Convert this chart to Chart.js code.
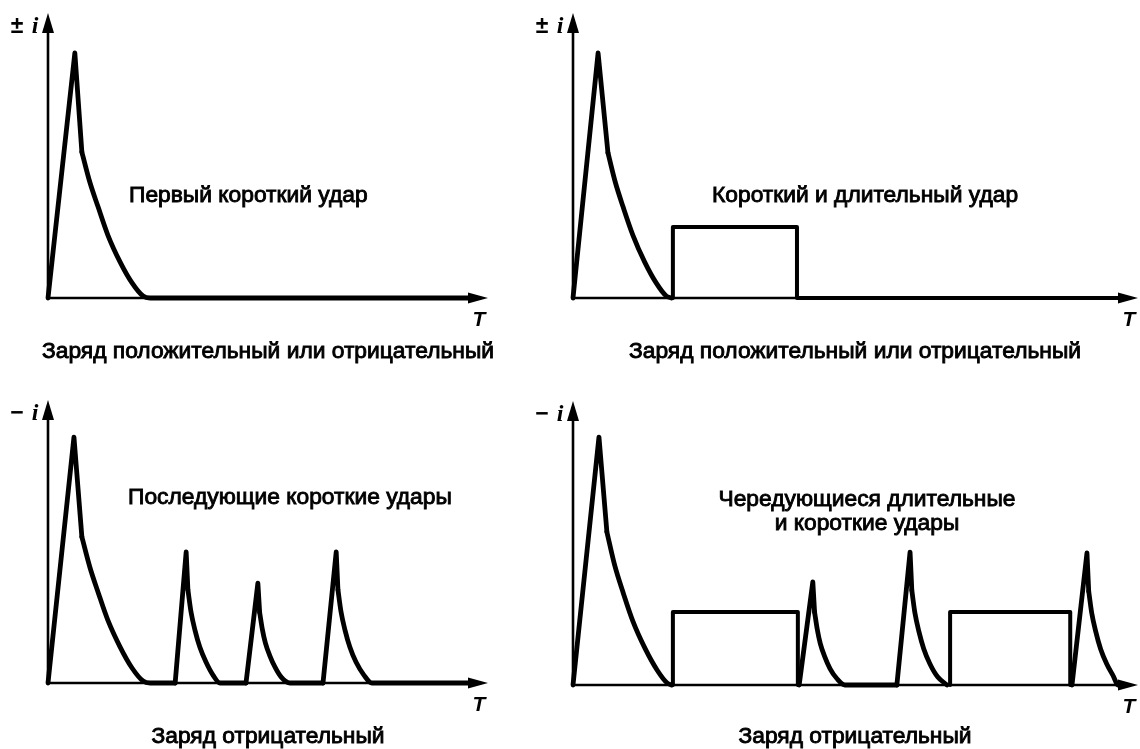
<!DOCTYPE html>
<html>
<head>
<meta charset="utf-8">
<script src="https://cdn.jsdelivr.net/npm/chart.js@4.4.1/dist/chart.umd.min.js"></script>
<style>
  html, body { margin: 0; padding: 0; background: #fff; }
  body { width: 1140px; height: 749px; position: relative; overflow: hidden; }
  .panel { position: absolute; }
</style>
</head>
<body>
<div class="panel" style="left:0;top:0;width:530px;height:375px"><canvas id="c1"></canvas></div>
<div class="panel" style="left:530px;top:0;width:610px;height:375px"><canvas id="c2"></canvas></div>
<div class="panel" style="left:0;top:375px;width:530px;height:374px"><canvas id="c3"></canvas></div>
<div class="panel" style="left:530px;top:375px;width:610px;height:374px"><canvas id="c4"></canvas></div>
<script>
// ---- data: [time, current] pairs, arbitrary units ----
// panel 1: first short stroke
const p1Rise  = [[0, 0], [6.1, 86], [7.7, 51.2]];
const p1Decay = [[7.7, 51.2], [9.5, 40.7], [11.4, 31.9], [13.6, 22.1], [16.4, 12.6], [19.1, 5.3], [21.6, 0.7], [23.2, 0], [96, 0]];

// panel 2: short stroke + long stroke
const p2Rise  = [[0, 0], [5.7, 86], [7.95, 50.9]];
const p2Decay = [[7.95, 50.9], [9.6, 40.7], [11.4, 31.9], [13.6, 22.1], [16.3, 12.6], [18.9, 5.3], [21.2, 0.7], [22.4, 0]];
const p2Long  = [[22.7, 0], [22.7, 24.9], [50.9, 24.9], [50.9, 0], [124, 0]];

// panel 3: subsequent short strokes
const p3Rise1  = [[0, 0], [5.9, 86.9], [7.7, 51.6]];
const p3Decay1 = [[7.7, 51.6], [9.5, 41], [11.4, 32], [13.6, 22.2], [16.4, 12.7], [19.1, 5.3], [21.6, 0.7], [23.2, 0], [28.9, 0]];
const p3Rise2  = [[28.9, 0], [31.4, 46.3], [31.8, 32.9]];
const p3Decay2 = [[31.8, 32.9], [32.5, 25.1], [33.4, 18.7], [34.5, 12.7], [35.9, 7.4], [37.5, 2.8], [39.1, 0], [45, 0]];
const p3Rise3  = [[45, 0], [47.7, 35.3], [48.1, 25]];
const p3Decay3 = [[48.1, 25], [48.7, 19.1], [49.4, 14.2], [50.4, 9.7], [51.6, 5.6], [53, 2.1], [55, 0], [62.5, 0]];
const p3Rise4  = [[62.5, 0], [65.5, 46.3], [65.9, 32.9]];
const p3Decay4 = [[65.9, 32.9], [66.6, 25.1], [67.5, 18.7], [68.6, 12.7], [70, 7.4], [71.8, 2.8], [73.6, 0], [96, 0]];

// panel 4: alternating long and short strokes
const p4Rise1  = [[0, 0], [5.9, 87.3], [7.7, 53.9]];
const p4Decay1 = [[7.7, 53.9], [9.5, 42], [11.4, 32.5], [13.6, 22.5], [16.4, 12.8], [19.1, 5.3], [21.4, 0.7], [22.4, 0]];
const p4Long1  = [[22.7, 0], [22.7, 25.7], [51.1, 25.7], [51.1, 0]];
const p4Rise2  = [[51.4, 0], [54.5, 36.3], [54.9, 25.7]];
const p4Decay2 = [[54.9, 25.7], [55.5, 19.7], [56.2, 14.6], [57.2, 10], [58.4, 5.8], [60, 2.2], [61.8, 0], [73.6, 0]];
const p4Rise3  = [[73.6, 0], [76.6, 46.8], [77, 33.3]];
const p4Decay3 = [[77, 33.3], [77.7, 25.4], [78.6, 18.9], [79.7, 12.8], [81.1, 7.5], [82.9, 2.8], [85, 0]];
const p4Long2  = [[85.7, 0], [85.7, 25.7], [113, 25.7], [113, 0]];
const p4Rise4  = [[113.4, 0], [116.8, 46.5], [117.2, 33]];
const p4Decay4 = [[117.2, 33], [117.9, 25.2], [118.8, 18.8], [119.9, 12.7], [121.3, 7.4], [122.9, 2.8], [123.8, 0], [124, 0]];

const SANS = '"Liberation Sans", Arial, sans-serif';
const SERIF = '"Liberation Serif", "Times New Roman", serif';

function seg(points, kind) {
    return {
        data: points.map(([x, y]) => ({ x, y })),
        showLine: true,
        borderColor: '#000',
        borderWidth: kind === 'long' ? 4 : 4.8,
        borderJoinStyle: 'round',
        borderCapStyle: 'round',
        pointRadius: 0,
        fill: false,
        clip: false,
        tension: 0,
        cubicInterpolationMode: kind === 'decay' ? 'monotone' : 'default'
    };
}

// heavier text like the scanned original
function boldText(ctx, text, x, y) {
    ctx.strokeText(text, x, y);
    ctx.fillText(text, x, y);
}

// axes with arrows, axis letters, notes and captions
const schemePlugin = {
    id: 'scheme',
    beforeDatasetsDraw(chart) {
        const { ctx, scales: { x, y } } = chart;
        const x0 = x.getPixelForValue(0), y0 = y.getPixelForValue(0);
        const xEnd = x.getPixelForValue(x.max), yTop = y.getPixelForValue(y.max);
        ctx.save();
        ctx.strokeStyle = '#000';
        ctx.lineWidth = 2.6;
        ctx.beginPath();
        ctx.moveTo(x0, yTop + 10);
        ctx.lineTo(x0, y0);
        ctx.lineTo(xEnd - 10, y0);
        ctx.stroke();
        ctx.restore();
    },
    afterDatasetsDraw(chart, args, opts) {
        const { ctx, scales: { x, y } } = chart;
        const x0 = x.getPixelForValue(0), y0 = y.getPixelForValue(0);
        const xEnd = x.getPixelForValue(x.max), yTop = y.getPixelForValue(y.max);
        ctx.save();
        ctx.fillStyle = '#000';
        ctx.strokeStyle = '#000';
        // arrow heads
        ctx.beginPath();
        ctx.moveTo(x0, yTop);
        ctx.lineTo(x0 - 6, yTop + 20);
        ctx.lineTo(x0 + 6, yTop + 20);
        ctx.closePath();
        ctx.fill();
        ctx.beginPath();
        ctx.moveTo(xEnd, y0);
        ctx.lineTo(xEnd - 20, y0 - 5.5);
        ctx.lineTo(xEnd - 20, y0 + 5.5);
        ctx.closePath();
        ctx.fill();

        ctx.textBaseline = 'middle';
        ctx.textAlign = 'center';
        // axis letters
        ctx.font = 'bold 23px ' + SANS;
        ctx.fillText(opts.sign, x0 - 31, yTop + 14);
        ctx.font = 'bold italic 24px ' + SERIF;
        ctx.fillText('i', x0 - 13, yTop + 14);
        ctx.font = 'bold italic 21px ' + SANS;
        ctx.fillText('T', xEnd - 9, y0 + 22);

        ctx.font = '22.8px ' + SANS;
        ctx.lineWidth = 0.9;
        opts.notes.forEach(n => {
            ctx.textAlign = n.align || 'center';
            boldText(ctx, n.text, n.x, n.y);
        });
        ctx.textAlign = 'center';
        boldText(ctx, opts.caption, opts.captionX, opts.captionY);
        ctx.restore();
    }
};

function makeChart(id, segments, xMax, padding, decor) {
    new Chart(document.getElementById(id), {
        type: 'scatter',
        data: { datasets: segments.map(([pts, kind]) => seg(pts, kind)) },
        options: {
            responsive: true,
            maintainAspectRatio: false,
            animation: false,
            events: [],
            layout: { padding },
            scales: {
                x: { type: 'linear', min: 0, max: xMax, display: false },
                y: { type: 'linear', min: 0, max: 100, display: false }
            },
            plugins: {
                legend: { display: false },
                tooltip: { enabled: false },
                scheme: decor
            }
        },
        plugins: [schemePlugin]
    });
}

makeChart('c1',
    [[p1Rise, 'rise'], [p1Decay, 'decay']],
    100, { left: 48, right: 42, top: 13, bottom: 77 },
    {
        sign: '±',
        notes: [{ text: 'Первый короткий удар', x: 129, y: 196, align: 'left' }],
        caption: 'Заряд положительный или отрицательный', captionX: 268, captionY: 352
    });

makeChart('c2',
    [[p2Rise, 'rise'], [p2Decay, 'decay'], [p2Long, 'long']],
    128.4, { left: 43, right: 2, top: 13, bottom: 77 },
    {
        sign: '±',
        notes: [{ text: 'Короткий и длительный удар', x: 182, y: 196, align: 'left' }],
        caption: 'Заряд положительный или отрицательный', captionX: 325, captionY: 352
    });

makeChart('c3',
    [[p3Rise1, 'rise'], [p3Decay1, 'decay'], [p3Rise2, 'rise'], [p3Decay2, 'decay'],
     [p3Rise3, 'rise'], [p3Decay3, 'decay'], [p3Rise4, 'rise'], [p3Decay4, 'decay']],
    100, { left: 48, right: 42, top: 25, bottom: 66 },
    {
        sign: '−',
        notes: [{ text: 'Последующие короткие удары', x: 128, y: 123, align: 'left' }],
        caption: 'Заряд отрицательный', captionX: 268, captionY: 362
    });

makeChart('c4',
    [[p4Rise1, 'rise'], [p4Decay1, 'decay'], [p4Long1, 'long'], [p4Rise2, 'rise'], [p4Decay2, 'decay'],
     [p4Rise3, 'rise'], [p4Decay3, 'decay'], [p4Long2, 'long'], [p4Rise4, 'rise'], [p4Decay4, 'decay']],
    128.4, { left: 43, right: 2, top: 26, bottom: 64 },
    {
        sign: '−',
        notes: [
            { text: 'Чередующиеся длительные', x: 337, y: 125 },
            { text: 'и короткие удары', x: 337, y: 149 }
        ],
        caption: 'Заряд отрицательный', captionX: 325, captionY: 362
    });
</script>
</body>
</html>
